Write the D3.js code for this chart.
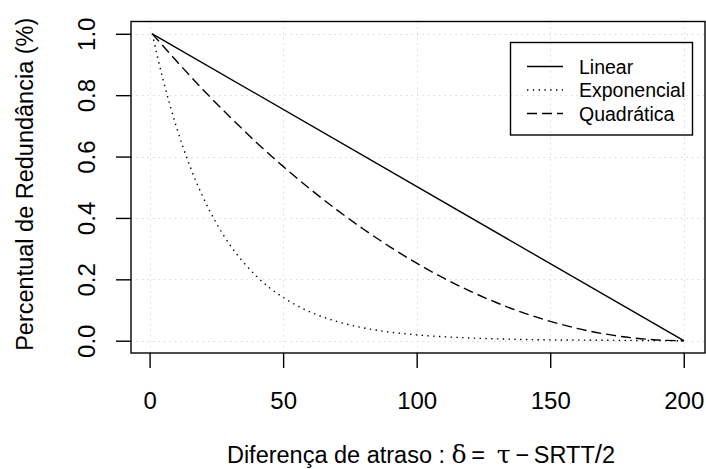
<!DOCTYPE html>
<html>
<head>
<meta charset="utf-8">
<script src="https://cdn.jsdelivr.net/npm/d3@7"></script>
<style>
  html, body { margin: 0; padding: 0; background: #fff; }
  svg { display: block; }
  text { font-family: "Liberation Sans", Arial, Helvetica, sans-serif; fill: #000; }
</style>
</head>
<body>
<svg id="chart" width="706" height="469"></svg>
<script>
// ---- data ----
const seriesNames = ["Linear", "Exponencial", "Quadrática"];
const linearX = [1, 200];
const linearY = [1, 0];
const expX = [1, 5, 10, 15, 20, 25, 30, 35, 40, 45, 50, 60, 70, 80, 90, 100, 120, 140, 160, 180, 200];
const expY = [1, 0.852, 0.698, 0.571, 0.468, 0.383, 0.313, 0.257, 0.210, 0.172, 0.141, 0.094, 0.063, 0.042, 0.028, 0.019, 0.009, 0.004, 0.002, 0.001, 0.0];
const quadX = [1, 10, 20, 30, 40, 50, 60, 70, 80, 90, 100, 110, 120, 130, 140, 150, 160, 170, 180, 190, 200];
const quadY = [1, 0.912, 0.818, 0.730, 0.646, 0.568, 0.495, 0.427, 0.364, 0.306, 0.2525, 0.2045, 0.1616, 0.1237, 0.0909, 0.0631, 0.0404, 0.0227, 0.0101, 0.0025, 0];
const xTicks = [0, 50, 100, 150, 200];
const yTicks = [0.0, 0.2, 0.4, 0.6, 0.8, 1.0];
const yTickLabels = ["0.0", "0.2", "0.4", "0.6", "0.8", "1.0"];
const xDomain = [1, 200];
const yDomain = [0, 1];

// ---- layout ----
const svg = d3.select("#chart");
const plot = { left: 131, right: 705, top: 21.5, bottom: 353 };
const padX = (xDomain[1] - xDomain[0]) * 0.04;
const padY = (yDomain[1] - yDomain[0]) * 0.04;
const x = d3.scaleLinear().domain([xDomain[0] - padX, xDomain[1] + padX]).range([plot.left, plot.right]);
const y = d3.scaleLinear().domain([yDomain[0] - padY, yDomain[1] + padY]).range([plot.bottom, plot.top]);

// grid
const grid = svg.append("g").attr("stroke", "#D3D3D3").attr("stroke-width", 1).attr("stroke-dasharray", "1.3,4.2");
grid.selectAll("line.v").data(xTicks).join("line")
  .attr("x1", d => Math.round(x(d)) + 0.5).attr("x2", d => Math.round(x(d)) + 0.5)
  .attr("y1", plot.top).attr("y2", plot.bottom);
grid.selectAll("line.h").data(yTicks).join("line")
  .attr("y1", d => Math.round(y(d)) + 0.5).attr("y2", d => Math.round(y(d)) + 0.5)
  .attr("x1", plot.left).attr("x2", plot.right);

// axes
const tickFont = 24;
const xAxis = d3.axisBottom(x).tickValues(xTicks).tickSize(15).tickPadding(24).tickFormat(d3.format("d"));
const gx = svg.append("g").attr("transform", `translate(0,${plot.bottom})`).call(xAxis);
gx.selectAll(".domain").remove();
gx.selectAll(".tick line").attr("stroke", "#000").attr("stroke-width", 1.4);
gx.selectAll(".tick text").attr("font-size", tickFont).attr("font-family", "Liberation Sans, Arial, sans-serif").attr("fill", "#000");

const yAxis = d3.axisLeft(y).tickValues(yTicks).tickSize(15).tickFormat((d, i) => yTickLabels[i]);
const gy = svg.append("g").attr("transform", `translate(${plot.left},0)`).call(yAxis);
gy.selectAll(".domain").remove();
gy.selectAll(".tick line").attr("stroke", "#000").attr("stroke-width", 1.4);
gy.selectAll(".tick text")
  .attr("font-size", tickFont).attr("font-family", "Liberation Sans, Arial, sans-serif").attr("fill", "#000")
  .attr("x", null).attr("dy", null)
  .attr("text-anchor", "middle")
  .attr("transform", `translate(${95 - plot.left},0) rotate(-90)`);

// box
svg.append("rect")
  .attr("x", plot.left).attr("y", plot.top)
  .attr("width", plot.right - plot.left).attr("height", plot.bottom - plot.top)
  .attr("fill", "none").attr("stroke", "#000").attr("stroke-width", 1.4);

// series
const lineGen = d3.line().x(d => x(d[0])).y(d => y(d[1])).curve(d3.curveMonotoneX);
const styles = [
  { dash: null },
  { dash: "1.4,4.4" },
  { dash: "10,5" }
];
const series = [
  d3.zip(linearX, linearY),
  d3.zip(expX, expY),
  d3.zip(quadX, quadY)
];
series.forEach((s, i) => {
  svg.append("path").datum(s)
    .attr("d", lineGen)
    .attr("fill", "none").attr("stroke", "#000").attr("stroke-width", 1.4)
    .attr("stroke-dasharray", styles[i].dash);
});

// legend
const leg = svg.append("g");
leg.append("rect").attr("x", 510.5).attr("y", 42.5).attr("width", 182).attr("height", 92.5)
  .attr("fill", "none").attr("stroke", "#000").attr("stroke-width", 1.4);
const legRowY = [66.5, 90, 113.5];
seriesNames.forEach((name, i) => {
  leg.append("line").attr("x1", 527).attr("x2", 563).attr("y1", legRowY[i]).attr("y2", legRowY[i])
    .attr("stroke", "#000").attr("stroke-width", 1.4).attr("stroke-dasharray", styles[i].dash);
  leg.append("text").attr("x", 579).attr("y", legRowY[i]).attr("dy", "0.36em")
    .attr("font-size", 19.5).text(name);
});

// axis titles
svg.append("text")
  .attr("transform", `translate(33,${(plot.top + plot.bottom) / 2 - 3}) rotate(-90)`)
  .attr("text-anchor", "middle").attr("font-size", 23.5)
  .text("Percentual de Redundância (%)");

const greek = "DejaVu Serif, Liberation Serif, serif";
const xt = svg.append("text").attr("x", (plot.left + plot.right) / 2 + 3).attr("y", 463)
  .attr("text-anchor", "middle").attr("font-size", 23.5);
xt.append("tspan").text("Diferença de atraso : ");
xt.append("tspan").attr("font-family", greek).attr("font-size", 25).text("δ");
xt.append("tspan").text("\u2009=\u2002");
xt.append("tspan").attr("font-family", greek).attr("font-size", 25).text("τ");
xt.append("tspan").text("\u2009−\u2009SRTT");
xt.append("tspan").attr("font-size", 26).text("/");
xt.append("tspan").text("2");
</script>
</body>
</html>
